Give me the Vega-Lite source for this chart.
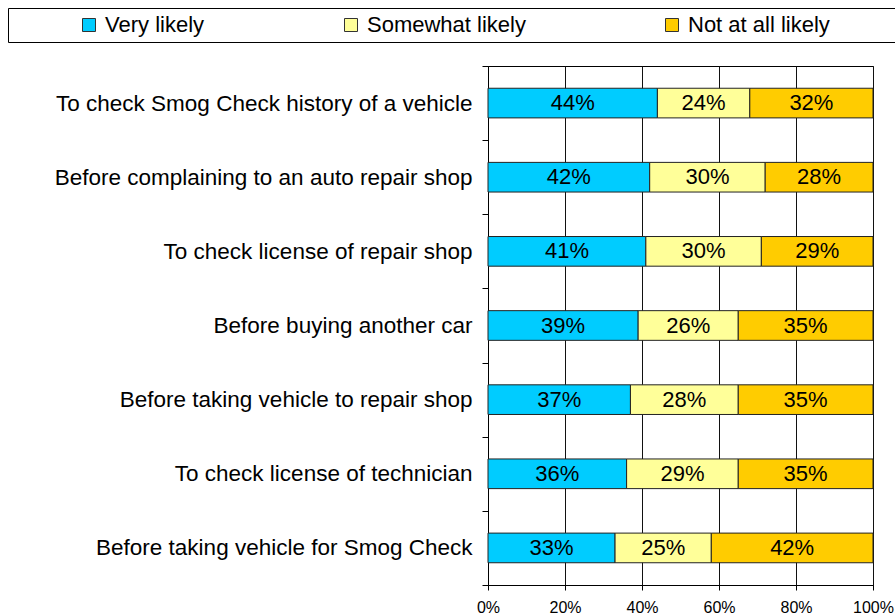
{
  "$schema": "https://vega.github.io/schema/vega-lite/v6.json",
  "width": 385,
  "height": 519,
  "autosize": {"type": "none"},
  "padding": {"left": 488, "top": 66, "right": 22, "bottom": 31},
  "background": "white",
  "config": {
    "view": {"stroke": "#000", "strokeWidth": 1},
    "font": "Liberation Sans"
  },
  "data": {
    "values": [
      {"question": "To check Smog Check history of a vehicle", "response": "Very likely", "order": 1, "value": 0.44},
      {"question": "To check Smog Check history of a vehicle", "response": "Somewhat likely", "order": 2, "value": 0.24},
      {"question": "To check Smog Check history of a vehicle", "response": "Not at all likely", "order": 3, "value": 0.32},
      {"question": "Before complaining to an auto repair shop", "response": "Very likely", "order": 1, "value": 0.42},
      {"question": "Before complaining to an auto repair shop", "response": "Somewhat likely", "order": 2, "value": 0.30},
      {"question": "Before complaining to an auto repair shop", "response": "Not at all likely", "order": 3, "value": 0.28},
      {"question": "To check license of repair shop", "response": "Very likely", "order": 1, "value": 0.41},
      {"question": "To check license of repair shop", "response": "Somewhat likely", "order": 2, "value": 0.30},
      {"question": "To check license of repair shop", "response": "Not at all likely", "order": 3, "value": 0.29},
      {"question": "Before buying another car", "response": "Very likely", "order": 1, "value": 0.39},
      {"question": "Before buying another car", "response": "Somewhat likely", "order": 2, "value": 0.26},
      {"question": "Before buying another car", "response": "Not at all likely", "order": 3, "value": 0.35},
      {"question": "Before taking vehicle to repair shop", "response": "Very likely", "order": 1, "value": 0.37},
      {"question": "Before taking vehicle to repair shop", "response": "Somewhat likely", "order": 2, "value": 0.28},
      {"question": "Before taking vehicle to repair shop", "response": "Not at all likely", "order": 3, "value": 0.35},
      {"question": "To check license of technician", "response": "Very likely", "order": 1, "value": 0.36},
      {"question": "To check license of technician", "response": "Somewhat likely", "order": 2, "value": 0.29},
      {"question": "To check license of technician", "response": "Not at all likely", "order": 3, "value": 0.35},
      {"question": "Before taking vehicle for Smog Check", "response": "Very likely", "order": 1, "value": 0.33},
      {"question": "Before taking vehicle for Smog Check", "response": "Somewhat likely", "order": 2, "value": 0.25},
      {"question": "Before taking vehicle for Smog Check", "response": "Not at all likely", "order": 3, "value": 0.42}
    ]
  },
  "transform": [
    {"stack": "value", "groupby": ["question"], "sort": [{"field": "order"}], "as": ["x0", "x1"]},
    {"calculate": "(datum.x0 + datum.x1) / 2", "as": "mid"}
  ],
  "encoding": {
    "y": {
      "field": "question",
      "type": "nominal",
      "sort": [
        "To check Smog Check history of a vehicle",
        "Before complaining to an auto repair shop",
        "To check license of repair shop",
        "Before buying another car",
        "Before taking vehicle to repair shop",
        "To check license of technician",
        "Before taking vehicle for Smog Check"
      ],
      "scale": {"paddingInner": 0, "paddingOuter": 0},
      "axis": {
        "title": null,
        "labelFontSize": 22.5,
        "labelColor": "#000",
        "labelLimit": 500,
        "labelPadding": 10,
        "tickSize": 6,
        "tickColor": "#000",
        "domainColor": "#000",
        "tickBand": "extent",
        "grid": false
      }
    }
  },
  "layer": [
    {
      "mark": {"type": "bar", "height": {"band": 0.4}, "stroke": "#222", "strokeWidth": 1},
      "encoding": {
        "x": {
          "field": "x0",
          "type": "quantitative",
          "scale": {"domain": [0, 1]},
          "axis": {
            "title": null,
            "values": [0, 0.2, 0.4, 0.6, 0.8, 1],
            "format": ".0%",
            "labelFontSize": 16,
            "labelColor": "#000",
            "labelPadding": 9,
            "labelFlush": false,
            "tickSize": 5,
            "tickColor": "#000",
            "domainColor": "#000",
            "grid": true,
            "gridColor": "#111",
            "gridOpacity": 1
          }
        },
        "x2": {"field": "x1"},
        "color": {
          "field": "response",
          "type": "nominal",
          "scale": {
            "domain": ["Very likely", "Somewhat likely", "Not at all likely", "zz"],
            "range": ["#00CCFF", "#FFFF99", "#FFCC00", "transparent"]
          },
          "legend": {
            "orient": "none",
            "legendX": -480,
            "legendY": -58,
            "direction": "horizontal",
            "columns": 4,
            "title": " ",
            "titleOrient": "left",
            "titlePadding": 64,
            "titleFontSize": 22,
            "padding": 6,
            "strokeColor": "#000",
            "symbolType": "square",
            "symbolSize": 169,
            "symbolStrokeColor": "#333",
            "symbolStrokeWidth": 1,
            "symbolOpacity": 1,
            "labelFontSize": 22,
            "labelColor": "#000",
            "labelOffset": 5,
            "labelLimit": 500,
            "columnPadding": 135,
            "labelExpr": "datum.value == 'zz' ? '' : datum.label",
            "encode": {
              "symbols": {
                "update": {
                  "strokeOpacity": {"signal": "datum.value == 'zz' ? 0 : 1"}
                }
              }
            }
          }
        }
      }
    },
    {
      "mark": {"type": "text", "fontSize": 22, "color": "#000", "baseline": "middle"},
      "encoding": {
        "x": {"field": "mid", "type": "quantitative"},
        "text": {"field": "value", "type": "quantitative", "format": ".0%"}
      }
    }
  ]
}
